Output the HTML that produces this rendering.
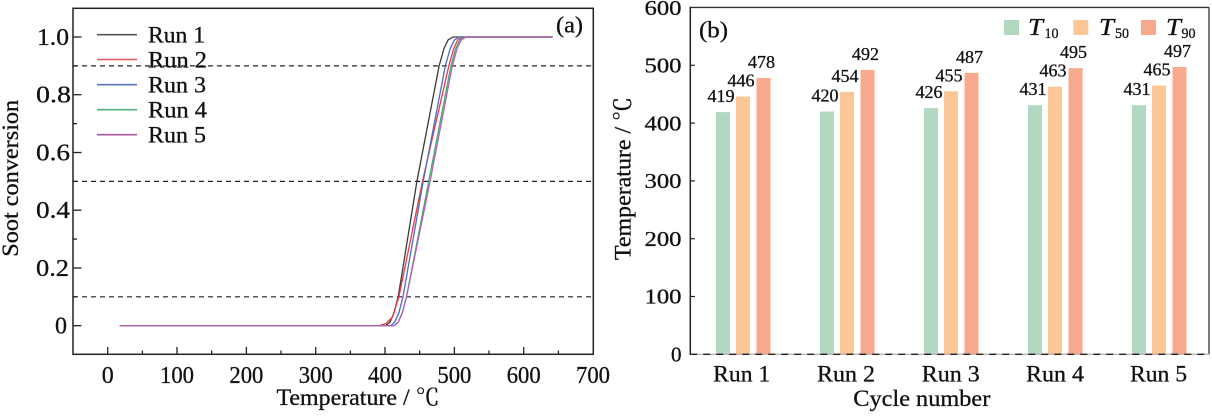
<!DOCTYPE html>
<html>
<head>
<meta charset="utf-8">
<style>
  html, body { margin: 0; padding: 0; background: #ffffff; }
  svg { display: block; }
  text { font-family: "Liberation Serif", "Noto Serif CJK SC", serif; fill: #111; stroke: #111; stroke-width: 0.3; }
</style>
</head>
<body>
<svg width="1212" height="419" viewBox="0 0 1212 419" xmlns="http://www.w3.org/2000/svg">
  <rect x="0" y="0" width="1212" height="419" fill="#ffffff"/>

  <!-- ================= LEFT CHART (a) ================= -->
  <g stroke="#222" stroke-width="1.2" stroke-dasharray="5,4" fill="none">
    <line x1="73" y1="65.9" x2="593" y2="65.9"/>
    <line x1="73" y1="181.35" x2="593" y2="181.35"/>
    <line x1="73" y1="296.8" x2="593" y2="296.8"/>
  </g>

  <g fill="none" stroke-width="1.3" stroke-linejoin="round" stroke-linecap="round">
    <path stroke="#3a3a3a" d="M120.2,325.7 L385.7,325.7 L389.9,322.2 L394.0,312.7 L398.2,296.8 L416.9,181.35 L439.1,65.9 L444.0,48.5 L448.1,39.9 L453.0,37.0 L552.1,37.0"/>
    <path stroke="#e8393f" d="M120.2,325.7 L379.0,325.7 L386.0,323.6 L392.5,317.0 L398.9,296.8 L422.5,181.35 L448.8,65.9 L453.7,48.5 L457.8,39.9 L462.7,37.0 L552.1,37.0"/>
    <path stroke="#4d6bc6" d="M120.2,325.7 L390.6,325.7 L394.7,322.2 L398.9,312.7 L403.0,296.8 L423.2,181.35 L445.3,65.9 L450.2,48.5 L454.4,39.9 L459.2,37.0 L552.1,37.0"/>
    <path stroke="#3fae74" d="M120.2,325.7 L394.0,325.7 L398.2,322.2 L402.4,312.7 L406.5,296.8 L428.7,181.35 L450.9,65.9 L455.7,48.5 L459.9,39.9 L464.7,37.0 L552.1,37.0"/>
    <path stroke="#b55fb5" d="M120.2,325.7 L394.0,325.7 L398.2,322.2 L402.4,312.7 L406.5,296.8 L430.1,181.35 L452.3,65.9 L457.1,48.5 L461.3,39.9 L466.1,37.0 L552.1,37.0"/>
  </g>

  <rect x="73" y="8.3" width="520.3" height="346" fill="none" stroke="#222" stroke-width="1.5"/>

  <g stroke="#222" stroke-width="1.3">
    <line x1="107.7" y1="354.3" x2="107.7" y2="347"/>
    <line x1="177.0" y1="354.3" x2="177.0" y2="347"/>
    <line x1="246.4" y1="354.3" x2="246.4" y2="347"/>
    <line x1="315.7" y1="354.3" x2="315.7" y2="347"/>
    <line x1="385.0" y1="354.3" x2="385.0" y2="347"/>
    <line x1="454.4" y1="354.3" x2="454.4" y2="347"/>
    <line x1="523.7" y1="354.3" x2="523.7" y2="347"/>
    <line x1="142.4" y1="354.3" x2="142.4" y2="350.5"/>
    <line x1="211.7" y1="354.3" x2="211.7" y2="350.5"/>
    <line x1="281.0" y1="354.3" x2="281.0" y2="350.5"/>
    <line x1="350.4" y1="354.3" x2="350.4" y2="350.5"/>
    <line x1="419.7" y1="354.3" x2="419.7" y2="350.5"/>
    <line x1="489.0" y1="354.3" x2="489.0" y2="350.5"/>
    <line x1="558.4" y1="354.3" x2="558.4" y2="350.5"/>
  </g>
  <g stroke="#222" stroke-width="1.3">
    <line x1="73" y1="325.7" x2="81.5" y2="325.7"/>
    <line x1="73" y1="268.0" x2="81.5" y2="268.0"/>
    <line x1="73" y1="210.2" x2="81.5" y2="210.2"/>
    <line x1="73" y1="152.5" x2="81.5" y2="152.5"/>
    <line x1="73" y1="94.7" x2="81.5" y2="94.7"/>
    <line x1="73" y1="37.0" x2="81.5" y2="37.0"/>
    <line x1="73" y1="296.8" x2="77" y2="296.8"/>
    <line x1="73" y1="239.1" x2="77" y2="239.1"/>
    <line x1="73" y1="181.35" x2="77" y2="181.35"/>
    <line x1="73" y1="123.6" x2="77" y2="123.6"/>
    <line x1="73" y1="65.9" x2="77" y2="65.9"/>
  </g>

  <g font-size="24" text-anchor="middle">
    <text x="107.7" y="383">0</text>
    <text x="177.0" y="383" textLength="34" lengthAdjust="spacingAndGlyphs">100</text>
    <text x="246.4" y="383" textLength="34" lengthAdjust="spacingAndGlyphs">200</text>
    <text x="315.7" y="383" textLength="34" lengthAdjust="spacingAndGlyphs">300</text>
    <text x="385.0" y="383" textLength="34" lengthAdjust="spacingAndGlyphs">400</text>
    <text x="454.4" y="383" textLength="34" lengthAdjust="spacingAndGlyphs">500</text>
    <text x="523.7" y="383" textLength="34" lengthAdjust="spacingAndGlyphs">600</text>
    <text x="593.0" y="383" textLength="34" lengthAdjust="spacingAndGlyphs">700</text>
  </g>
  <g font-size="24" text-anchor="end">
    <text x="67" y="333.7">0</text>
    <text x="69" y="276.0" textLength="33" lengthAdjust="spacingAndGlyphs">0.2</text>
    <text x="70" y="218.2" textLength="34" lengthAdjust="spacingAndGlyphs">0.4</text>
    <text x="70" y="160.5" textLength="34" lengthAdjust="spacingAndGlyphs">0.6</text>
    <text x="71" y="102.7" textLength="35" lengthAdjust="spacingAndGlyphs">0.8</text>
    <text x="69" y="45.0" textLength="32" lengthAdjust="spacingAndGlyphs">1.0</text>
  </g>

  <text x="358" y="405" font-size="23" text-anchor="middle" textLength="163" lengthAdjust="spacingAndGlyphs">Temperature / ℃</text>
  <text transform="translate(18,178.3) rotate(-90)" x="0" y="0" font-size="23" text-anchor="middle" textLength="157" lengthAdjust="spacingAndGlyphs">Soot conversion</text>

  <text x="556" y="32.7" font-size="23" textLength="27" lengthAdjust="spacingAndGlyphs">(a)</text>

  <g stroke-width="1.6">
    <line x1="97" y1="34.7" x2="137" y2="34.7" stroke="#555"/>
    <line x1="97" y1="59.5" x2="137" y2="59.5" stroke="#e8585f"/>
    <line x1="97" y1="84.7" x2="137" y2="84.7" stroke="#5a74c2"/>
    <line x1="97" y1="109.7" x2="137" y2="109.7" stroke="#4fb07e"/>
    <line x1="97" y1="134.7" x2="137" y2="134.7" stroke="#a9559f"/>
  </g>
  <g font-size="23">
    <text x="148" y="42.7" textLength="57" lengthAdjust="spacingAndGlyphs">Run 1</text>
    <text x="148" y="67.5" textLength="59" lengthAdjust="spacingAndGlyphs">Run 2</text>
    <text x="148" y="92.7" textLength="58" lengthAdjust="spacingAndGlyphs">Run 3</text>
    <text x="148" y="117.7" textLength="59" lengthAdjust="spacingAndGlyphs">Run 4</text>
    <text x="148" y="142.7" textLength="58" lengthAdjust="spacingAndGlyphs">Run 5</text>
  </g>

  <!-- ================= RIGHT CHART (b) ================= -->
  <g>
    <rect x="716" y="112.1" width="14" height="242.2" fill="#b2d8c1"/>
    <rect x="736" y="96.5" width="14" height="257.8" fill="#fcc797"/>
    <rect x="756.5" y="78.0" width="14" height="276.3" fill="#f7aa8d"/>
    <rect x="820" y="111.5" width="14" height="242.8" fill="#b2d8c1"/>
    <rect x="840" y="91.9" width="14" height="262.4" fill="#fcc797"/>
    <rect x="860.5" y="69.9" width="14" height="284.4" fill="#f7aa8d"/>
    <rect x="924" y="108.1" width="14" height="246.2" fill="#b2d8c1"/>
    <rect x="944" y="91.3" width="14" height="263.0" fill="#fcc797"/>
    <rect x="964.5" y="72.8" width="14" height="281.5" fill="#f7aa8d"/>
    <rect x="1028" y="105.2" width="14" height="249.1" fill="#b2d8c1"/>
    <rect x="1048" y="86.7" width="14" height="267.6" fill="#fcc797"/>
    <rect x="1068.5" y="68.2" width="14" height="286.1" fill="#f7aa8d"/>
    <rect x="1132" y="105.2" width="14" height="249.1" fill="#b2d8c1"/>
    <rect x="1152" y="85.5" width="14" height="268.8" fill="#fcc797"/>
    <rect x="1172.5" y="67.0" width="14" height="287.3" fill="#f7aa8d"/>
  </g>

  <g font-size="18" text-anchor="middle">
    <text x="721" y="102.1" textLength="27" lengthAdjust="spacingAndGlyphs">419</text>
    <text x="741" y="86.5" textLength="27" lengthAdjust="spacingAndGlyphs">446</text>
    <text x="761.5" y="68.0" textLength="27" lengthAdjust="spacingAndGlyphs">478</text>
    <text x="825" y="101.5" textLength="27" lengthAdjust="spacingAndGlyphs">420</text>
    <text x="845" y="81.9" textLength="27" lengthAdjust="spacingAndGlyphs">454</text>
    <text x="865.5" y="59.9" textLength="27" lengthAdjust="spacingAndGlyphs">492</text>
    <text x="929" y="98.1" textLength="27" lengthAdjust="spacingAndGlyphs">426</text>
    <text x="949" y="81.3" textLength="27" lengthAdjust="spacingAndGlyphs">455</text>
    <text x="969.5" y="62.8" textLength="27" lengthAdjust="spacingAndGlyphs">487</text>
    <text x="1033" y="95.2" textLength="27" lengthAdjust="spacingAndGlyphs">431</text>
    <text x="1053" y="76.7" textLength="27" lengthAdjust="spacingAndGlyphs">463</text>
    <text x="1073.5" y="58.2" textLength="27" lengthAdjust="spacingAndGlyphs">495</text>
    <text x="1137" y="95.2" textLength="27" lengthAdjust="spacingAndGlyphs">431</text>
    <text x="1157" y="75.5" textLength="27" lengthAdjust="spacingAndGlyphs">465</text>
    <text x="1177.5" y="57.0" textLength="27" lengthAdjust="spacingAndGlyphs">497</text>
  </g>

  <line x1="690.3" y1="7.4" x2="1209" y2="7.4" stroke="#333" stroke-width="1.4"/>
  <line x1="1209" y1="7.4" x2="1209" y2="354.3" stroke="#444" stroke-width="1.4"/>
  <line x1="690.3" y1="354.3" x2="1209" y2="354.3" stroke="#c9b4b4" stroke-width="1.4"/>
  <line x1="690.3" y1="354.3" x2="1209" y2="354.3" stroke="#222" stroke-width="1.4" stroke-dasharray="7,6"/>
  <line x1="690.3" y1="6.7" x2="690.3" y2="355" stroke="#222" stroke-width="1.5"/>

  <g stroke="#222" stroke-width="1.2">
    <line x1="690.3" y1="296.5" x2="695" y2="296.5"/>
    <line x1="690.3" y1="238.7" x2="695" y2="238.7"/>
    <line x1="690.3" y1="180.9" x2="695" y2="180.9"/>
    <line x1="690.3" y1="123.1" x2="695" y2="123.1"/>
    <line x1="690.3" y1="65.3" x2="695" y2="65.3"/>
  </g>
  <g font-size="21" text-anchor="end">
    <text x="681.5" y="361.5">0</text>
    <text x="681.5" y="303.7" textLength="37" lengthAdjust="spacingAndGlyphs">100</text>
    <text x="681.5" y="245.9" textLength="37" lengthAdjust="spacingAndGlyphs">200</text>
    <text x="681.5" y="188.1" textLength="37" lengthAdjust="spacingAndGlyphs">300</text>
    <text x="681.5" y="130.3" textLength="37" lengthAdjust="spacingAndGlyphs">400</text>
    <text x="681.5" y="72.5" textLength="37" lengthAdjust="spacingAndGlyphs">500</text>
    <text x="681.5" y="15.0" textLength="37" lengthAdjust="spacingAndGlyphs">600</text>
  </g>

  <g font-size="23" text-anchor="middle">
    <text x="741.7" y="381.7" textLength="57" lengthAdjust="spacingAndGlyphs">Run 1</text>
    <text x="846" y="381.7" textLength="58" lengthAdjust="spacingAndGlyphs">Run 2</text>
    <text x="950.8" y="381.7" textLength="58" lengthAdjust="spacingAndGlyphs">Run 3</text>
    <text x="1055" y="381.7" textLength="58" lengthAdjust="spacingAndGlyphs">Run 4</text>
    <text x="1158.5" y="381.7" textLength="57" lengthAdjust="spacingAndGlyphs">Run 5</text>
  </g>

  <text x="853.3" y="406" font-size="23" textLength="137" lengthAdjust="spacingAndGlyphs">Cycle number</text>
  <text transform="translate(630.5,178.5) rotate(-90)" x="0" y="0" font-size="23" text-anchor="middle" textLength="163" lengthAdjust="spacingAndGlyphs">Temperature / ℃</text>

  <text x="699" y="37.7" font-size="23" textLength="29" lengthAdjust="spacingAndGlyphs">(b)</text>

  <rect x="1004" y="20" width="15" height="15" fill="#b2d8c1"/>
  <rect x="1073.3" y="20" width="15" height="15" fill="#fcc797"/>
  <rect x="1141" y="20" width="15" height="15" fill="#f7aa8d"/>
  <g font-size="24" font-style="italic">
    <text x="1028" y="35" textLength="15" lengthAdjust="spacingAndGlyphs">T</text>
    <text x="1099" y="35" textLength="15" lengthAdjust="spacingAndGlyphs">T</text>
    <text x="1166" y="35" textLength="15" lengthAdjust="spacingAndGlyphs">T</text>
  </g>
  <g font-size="15">
    <text x="1044.5" y="38" textLength="14" lengthAdjust="spacingAndGlyphs">10</text>
    <text x="1115" y="38" textLength="14" lengthAdjust="spacingAndGlyphs">50</text>
    <text x="1181.5" y="38" textLength="14" lengthAdjust="spacingAndGlyphs">90</text>
  </g>
</svg>
</body>
</html>
